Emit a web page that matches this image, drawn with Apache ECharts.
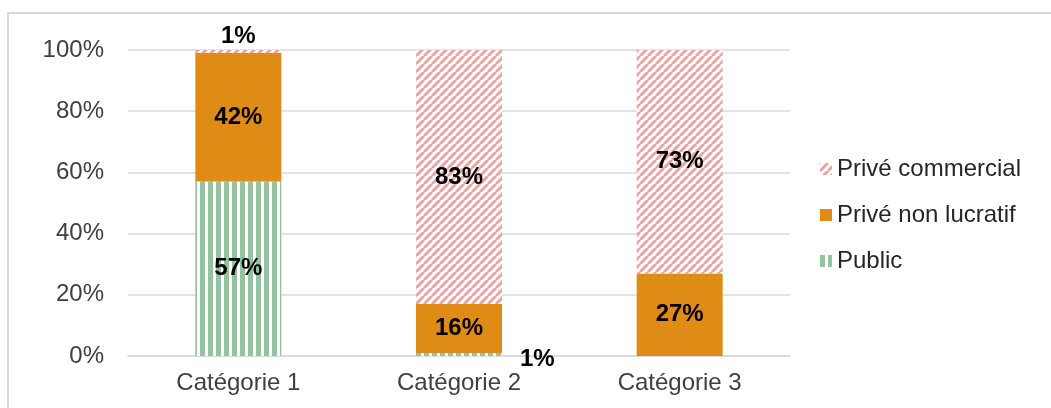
<!DOCTYPE html>
<html>
<head>
<meta charset="utf-8">
<script src="https://cdn.jsdelivr.net/npm/echarts@6/dist/echarts.min.js"></script>
<style>
  html, body { margin: 0; padding: 0; background: #fff; }
  #chart { width: 1051px; height: 408px; }
</style>
</head>
<body>
<div id="chart"></div>
<script>
// Shares by category (percent)
const categories = ['Catégorie 1', 'Catégorie 2', 'Catégorie 3'];
const seriesNames = ['Public', 'Privé non lucratif', 'Privé commercial'];
const publicValues = [57, 1, 0];
const nonLucratifValues = [42, 16, 27];
const commercialValues = [1, 83, 73];
const yTicks = [0, 20, 40, 60, 80, 100];

const FONT = 'Liberation Sans, Arial, sans-serif';

// Striped fills drawn on small canvases and repeated
function verticalStripes(color, bg) {
  const c = document.createElement('canvas');
  c.width = 8; c.height = 8;
  const g = c.getContext('2d');
  g.fillStyle = bg; g.fillRect(0, 0, 8, 8);
  g.fillStyle = color; g.fillRect(0, 0, 5, 8);
  return { image: c, repeat: 'repeat' };
}
function diagonalStripes(color, bg) {
  const s = 8;
  const c = document.createElement('canvas');
  c.width = s; c.height = s;
  const g = c.getContext('2d');
  g.fillStyle = bg; g.fillRect(0, 0, s, s);
  g.strokeStyle = color; g.lineWidth = 3;
  g.beginPath();
  for (let k = -1; k <= 1; k++) {
    g.moveTo(k * s, s); g.lineTo(k * s + s, 0);
  }
  g.stroke();
  return { image: c, repeat: 'repeat' };
}

const greenFill = verticalStripes('#93C49F', '#ffffff');
const pinkFill = diagonalStripes('#EBA3A3', '#ffffff');
const orange = '#DF8C17';

const labelBase = {
  show: true,
  position: 'inside',
  color: '#000',
  fontFamily: FONT,
  fontWeight: 'bold',
  fontSize: 24,
  formatter: p => p.value + '%'
};

function buildData(values, special) {
  return values.map((v, i) => {
    const item = { value: v };
    if (v === 0) item.label = { show: false };
    if (special && special[i]) item.label = special[i];
    return item;
  });
}

const chart = echarts.init(document.getElementById('chart'), null, { renderer: 'canvas' });
chart.setOption({
  animation: false,
  backgroundColor: '#fff',
  graphic: [{
    type: 'rect',
    shape: { x: 8, y: 13, width: 1100, height: 450 },
    style: { fill: 'none', stroke: '#D9D9D9', lineWidth: 2 },
    silent: true
  }],
  grid: { left: 128, right: 261, top: 50, bottom: 52, containLabel: false },
  legend: {
    orient: 'vertical',
    left: 815,
    top: 152,
    icon: 'rect',
    itemWidth: 12,
    itemHeight: 12,
    itemGap: 22,
    itemTextGap: 8,
    data: ['Privé commercial', 'Privé non lucratif', 'Public'],
    textStyle: { fontFamily: FONT, fontSize: 24, color: '#262626' }
  },
  xAxis: {
    type: 'category',
    data: categories,
    axisLine: { show: true, lineStyle: { color: '#D9D9D9', width: 1.5 } },
    axisTick: { show: false },
    axisLabel: { fontFamily: FONT, fontSize: 24, color: '#404040', margin: 15 }
  },
  yAxis: {
    type: 'value',
    min: 0, max: 100, interval: 20,
    axisLine: { show: false },
    axisTick: { show: false },
    splitLine: { lineStyle: { color: '#D9D9D9', width: 1.5 } },
    axisLabel: {
      fontFamily: FONT, fontSize: 24, color: '#404040', margin: 24,
      formatter: v => (yTicks.includes(v) ? v + '%' : '')
    }
  },
  series: [
    {
      name: seriesNames[0], type: 'bar', stack: 'total', barWidth: 86,
      itemStyle: { color: greenFill },
      label: labelBase,
      data: buildData(publicValues, { 1: Object.assign({}, labelBase, { position: 'right', distance: 18, offset: [0, 5] }) })
    },
    {
      name: seriesNames[1], type: 'bar', stack: 'total', barWidth: 86,
      itemStyle: { color: orange },
      label: labelBase,
      data: buildData(nonLucratifValues)
    },
    {
      name: seriesNames[2], type: 'bar', stack: 'total', barWidth: 86,
      itemStyle: { color: pinkFill },
      label: labelBase,
      data: buildData(commercialValues, { 0: Object.assign({}, labelBase, { position: 'top', distance: 2 }) })
    }
  ]
});
</script>
</body>
</html>
